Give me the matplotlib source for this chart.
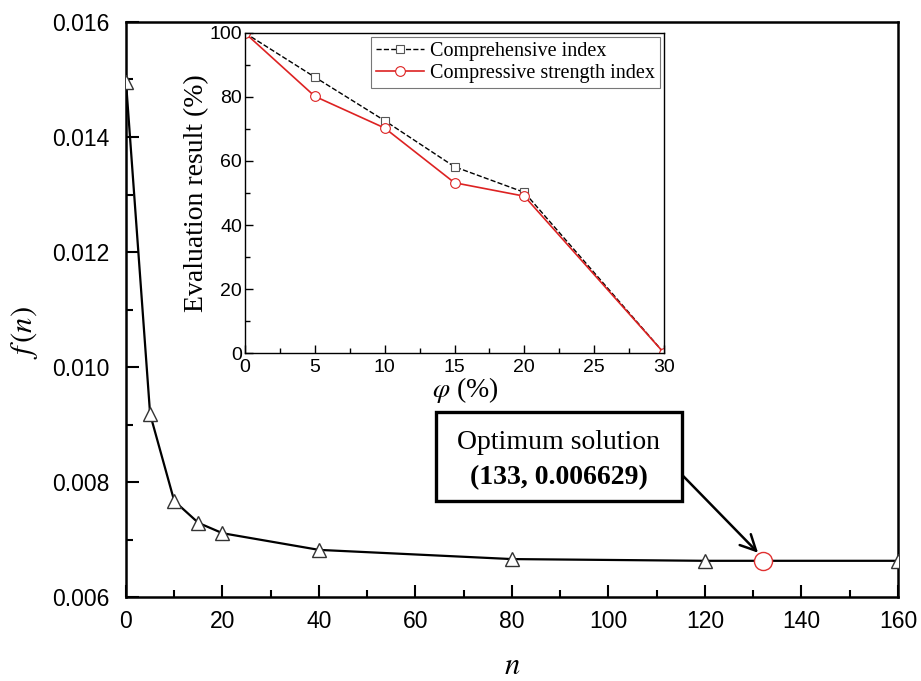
import matplotlib
matplotlib.use("Agg")
import matplotlib.pyplot as plt
from matplotlib.ticker import MultipleLocator, FormatStrFormatter
from matplotlib.patches import Rectangle

plt.rcParams["mathtext.fontset"] = "stix"

# main curve f(n)
n_vals = [0, 5, 10, 15, 20, 40, 80, 120, 160]
f_vals = [0.01496, 0.00918, 0.00767, 0.00729, 0.00711, 0.00682, 0.00666, 0.00663, 0.00663]
opt_n = 132
opt_f = 0.006629

# inset data
phi = [0, 5, 10, 15, 20, 30]
comp_index = [100, 86.2, 72.6, 58.2, 50.2, 0]
strength_index = [100, 80.2, 70.3, 53.2, 49.0, 0]

sans = "Liberation Sans"
serif = "Liberation Serif"

fig = plt.figure(figsize=(9.21, 6.81), dpi=100)
ax = fig.add_axes([0.1368, 0.1233, 0.8382, 0.8444])

ax.plot(n_vals, f_vals, color="black", lw=1.6, marker="^", ms=10,
        mfc="white", mec="#333333", mew=1.0, zorder=3)
ax.plot([opt_n], [opt_f], "o", ms=13, mfc="white", mec="#e03030", mew=1.0, zorder=4)

ax.set_xlim(0, 160)
ax.set_ylim(0.006, 0.016)
ax.xaxis.set_major_locator(MultipleLocator(20))
ax.xaxis.set_minor_locator(MultipleLocator(10))
ax.yaxis.set_major_locator(MultipleLocator(0.002))
ax.yaxis.set_minor_locator(MultipleLocator(0.001))
ax.yaxis.set_major_formatter(FormatStrFormatter("%.3f"))
ax.tick_params(which="both", direction="in", width=1.5, top=False, right=False)
ax.tick_params(which="major", length=9, labelsize=16.5, pad=12)
ax.tick_params(axis="x", which="major", pad=9)
ax.tick_params(which="minor", length=5)
for lab in ax.get_xticklabels() + ax.get_yticklabels():
    lab.set_fontfamily(sans)
for s in ax.spines.values():
    s.set_linewidth(1.8)

ax.set_xlabel("$n$", fontsize=22)
ax.set_ylabel("$f\\,(n)$", fontsize=22)
ax.xaxis.set_label_coords(0.5, -0.093)
ax.yaxis.set_label_coords(-0.112, 0.459)

# annotation box with arrow
ax.add_patch(Rectangle((0.4016, 0.167), 0.3187, 0.155, transform=ax.transAxes,
                       fc="white", ec="black", lw=2.4, zorder=5))
ax.text(0.5605, 0.268, "Optimum solution", transform=ax.transAxes,
        fontsize=20, fontfamily=serif, ha="center", va="center", zorder=6)
ax.text(0.5605, 0.208, "(133, 0.006629)", transform=ax.transAxes,
        fontsize=20, fontfamily=serif, fontweight="bold", ha="center", va="center",
        zorder=6)
ax.annotate("", xy=(131, 0.00677), xytext=(115.3, 0.00812),
            arrowprops=dict(arrowstyle="->", color="black", lw=1.8,
                            mutation_scale=28, shrinkA=0, shrinkB=0))

# inset
ins = fig.add_axes([0.266, 0.4816, 0.455, 0.47])
ins.plot(phi, comp_index, color="black", ls="--", lw=1.0, marker="s", ms=6,
         mfc="white", mec="#555555", mew=0.8, label="Comprehensive index")
ins.plot(phi, strength_index, color="#dd2222", lw=1.2, marker="o", ms=7,
         mfc="white", mec="#dd2222", mew=0.8, label="Compressive strength index")
ins.set_xlim(0, 30)
ins.set_ylim(0, 100)
ins.xaxis.set_major_locator(MultipleLocator(5))
ins.xaxis.set_minor_locator(MultipleLocator(2.5))
ins.yaxis.set_major_locator(MultipleLocator(20))
ins.yaxis.set_minor_locator(MultipleLocator(10))
ins.tick_params(which="both", direction="in", width=1.0, top=False, right=False)
ins.tick_params(which="major", length=6, labelsize=14)
ins.tick_params(axis="x", which="major", pad=4)
ins.tick_params(axis="y", which="major", pad=2)
ins.tick_params(which="minor", length=3.5)
for lab in ins.get_xticklabels() + ins.get_yticklabels():
    lab.set_fontfamily(sans)
for s in ins.spines.values():
    s.set_linewidth(1.0)
ins.set_xlabel("$\\varphi$ (%)", fontsize=20, fontfamily=serif)
ins.xaxis.set_label_coords(0.525, -0.07)
ins.set_ylabel("Evaluation result (%)", fontsize=20, fontfamily=serif, labelpad=0)
leg = ins.legend(loc="upper right", prop={"family": serif, "size": 14.5},
                 fancybox=False, edgecolor="#555555", handlelength=2.4,
                 borderpad=0.25, labelspacing=0.15, handletextpad=0.3,
                 borderaxespad=0.2)
leg.get_frame().set_linewidth(0.8)

fig.savefig("out.png", dpi=100)
